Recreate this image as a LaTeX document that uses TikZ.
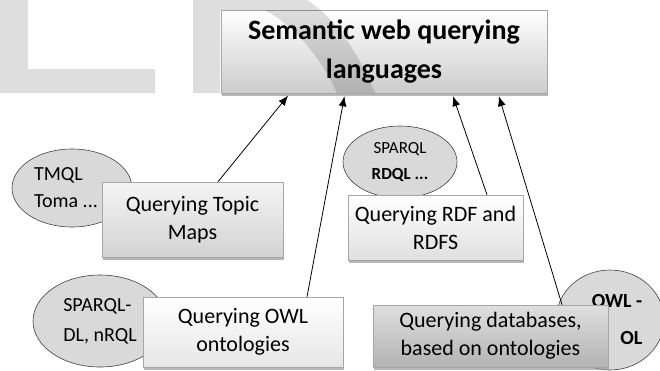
\documentclass[tikz,border=0pt]{standalone}
\usepackage{fontspec}
\setmainfont{Carlito}
\usetikzlibrary{shapes.geometric,shadows,arrows.meta}

\tikzset{
  qbox/.style={draw=gray!70, line width=0.6pt, align=center, inner sep=0pt,
    font=\fontsize{22}{28}\selectfont,
    drop shadow={shadow xshift=1pt,shadow yshift=-3pt,fill=gray!80,opacity=.7}},
  qlang/.style={ellipse, draw=black!75, line width=0.6pt, fill=gray!30, inner sep=0pt},
  qarrow/.style={-{Latex[length=10pt,width=8pt]}, line width=0.8pt, shorten >=3pt},
}

\begin{document}
\begin{tikzpicture}[x=1pt,y=-1pt]
  \useasboundingbox (0,0) rectangle (660,370);

  % languages (ellipses, behind the boxes)
  \node[qlang, minimum width=120, minimum height=78, align=left,
        font=\fontsize{20}{27}\selectfont] (tmql) at (72,188) {TMQL\\Toma ...\hspace*{12pt}};
  \node[qlang, minimum width=134, minimum height=92, align=left,
        font=\fontsize{20}{30}\selectfont] (sparqldl) at (100,321) {SPARQL-\\DL, nRQL};
  \node[qlang, minimum width=114, minimum height=72, align=center,
        font=\fontsize{17}{26}\selectfont] (rdql) at (400,162) {SPARQL\\\textbf{RDQL ...}};
  \node[qlang, minimum width=108, minimum height=100, align=right,
        font=\bfseries\fontsize{20}{37}\selectfont] (owlql) at (610,320) {\hspace*{14pt}OWL -\\OL};

  % querying boxes
  \node[qbox, minimum width=181, minimum height=75, top color=gray!8, bottom color=gray!35]
    (topic) at (192.5,219.5) {Querying Topic\\Maps};
  \node[qbox, minimum width=200, minimum height=70, top color=white, bottom color=gray!20]
    (owl) at (243,332) {Querying OWL\\ontologies};
  \node[qbox, minimum width=175, minimum height=65, top color=white, bottom color=gray!25]
    (rdf) at (435.5,227.5) {Querying RDF and\\RDFS};
  \node[qbox, minimum width=235, minimum height=62, top color=gray!25, bottom color=gray!60]
    (db) at (490.5,336) {Querying databases,\\based on ontologies};

  % main box
  \node[qbox, minimum width=326, minimum height=83, top color=white, bottom color=gray!40,
        font=\bfseries\fontsize{28}{39}\selectfont]
    (main) at (384,51.5) {Semantic web querying\\languages};

  % arrows
  \draw[qarrow] ([xshift=25.5pt]topic.north) -- ([xshift=-94pt]main.south);
  \draw[qarrow] ([xshift=64pt]owl.north) -- ([xshift=-39pt]main.south);
  \draw[qarrow] ([xshift=51.5pt]rdf.north) -- ([xshift=68pt]main.south);
  \draw[qarrow] ([xshift=71.5pt]db.north) -- ([xshift=114pt]main.south);

  % watermark
  \fill[black, fill opacity=.13]
    (0,0) -- (28,0) -- (28,69) -- (155,69) -- (155,93) -- (0,93) -- cycle;
  \fill[black, fill opacity=.13]
    (193,0) -- (193,93) -- (220,93) -- (220,10) -- (264,10)
    .. controls (295,25) and (322,60) .. (337,93) -- (375,93)
    .. controls (358,52) and (335,18) .. (307,0) -- cycle;
\end{tikzpicture}
\end{document}
